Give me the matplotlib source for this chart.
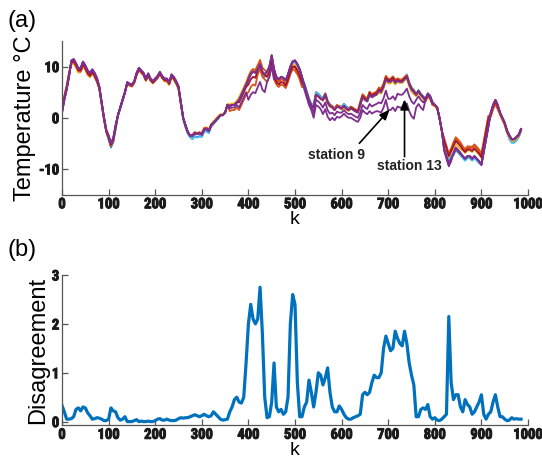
import numpy as np
import matplotlib
matplotlib.use("Agg")
import matplotlib.pyplot as plt
import matplotlib.patheffects as pe
from matplotlib import font_manager

# ---------------- data ----------------
k = np.arange(0, 990, 5)

# reference temperature trajectory (read every 5 samples)
base_temp = [1, 3.5, 5.5, 8, 11, 11.3, 10.5, 9.5, 9.5, 10.7,
             10, 9, 8.5, 9.2, 8.5, 7.5, 6, 3, 0, -2.5,
             -3.5, -5, -4, -1.5, 0.5, 2, 3.5, 5, 6.8, 6.5,
             6.3, 7, 8.5, 9.5, 9, 8.5, 7.5, 8.5, 7.5, 7,
             7.5, 8, 8.8, 8, 7.5, 7.5, 6.8, 8.3, 7.8, 7,
             6, 3, 0, -1.5, -2.8, -3.5, -3.5, -3, -3.2, -3,
             -3.3, -2.3, -2.2, -2.6, -1.5, -1, -0.5, 0, 0.5, 0.5,
             1, 2.5, 2.3, 2.5, 2.5, 3, 3.5, 4.5, 5.5, 6.5,
             7.5, 8.5, 9, 8.8, 9.5, 10.5, 9, 8.5, 9, 10,
             12.2, 9.5, 8, 7.5, 8, 7.8, 7.3, 8.5, 10, 11,
             11.2, 10.5, 9.5, 8, 6.5, 5, 3.5, 2.5, 2, 4.5,
             4.2, 3.7, 3.5, 4.5, 3, 2.3, 2, 1.5, 2.2, 2,
             1.8, 2.3, 1.8, 1.5, 1.8, 1.5, 1.2, 1, 2.5, 4,
             3.5, 3.2, 4.5, 4, 4.3, 4.5, 5.2, 5, 6, 7.5,
             7, 7, 7.5, 6.8, 7.2, 7, 7, 7.5, 8, 6.5,
             5.5, 5, 4.5, 5.2, 4.5, 4, 3.5, 4.5, 4, 2.8,
             2.5, 2, 0, -2.5, -5, -6.5, -8, -7, -6.5, -5.5,
             -6, -6.5, -7, -7.5, -7, -7, -7.5, -7, -7.5, -8,
             -8.5, -6, -3.5, -1, 1, 2.5, 3.5, 2.5, 1, 0,
             -1, -2.5, -3.5, -4.2, -4.2, -3.8, -3.3, -2.2]

# per-station deviation from the reference, read every 20 samples
dev_blue = [0.5, -0.2, -0.3, -0.3, -0.2, -0.8, -0.2, 0, 0, -0.2,
            -0.2, -0.2, -0.2, -0.3, -0.6, -0.4, -0.2, 0, 0, -0.3,
            0, -0.5, -0.5, -0.3, -0.3, -0.3, 0.2, 0.5, 0.3, 0.2,
            0.4, 0.3, 0, 0, 0.2, 0.3, 0.2, 0.4, 0.2, 0.2,
            0, -0.3, -0.8, -0.8, -0.8, -0.6, -0.3, -0.3, -0.6, -0.4]
dev_cyan = [0.3, -0.3, -0.4, -0.3, -0.2, -0.6, -0.2, 0, 0, -0.1,
            -0.1, -0.2, -0.2, -0.3, -0.7, -0.4, -0.2, 0, 0, -0.2,
            0.3, -0.3, -0.3, -0.2, -0.2, -0.2, 0.2, 0.4, 0.3, 0.2,
            0.3, 0.2, 0, 0.1, 0.3, 0.5, 0.3, 0.5, 0.1, 0.2,
            0, -0.2, -0.7, -0.9, -0.9, -0.5, -0.2, -0.3, -0.7, -0.5]
dev_yellow = [0.5, -0.7, -0.6, -0.5, -0.3, -0.3, 0, -0.2, -0.2, -0.3,
              -0.2, -0.4, -0.4, 0, 0, 0.2, 0.3, 0.2, 0.3, 0.5,
              0.5, -0.3, -0.3, -0.3, -0.5, -1.0, -0.3, 0, -0.2, 0,
              -0.2, 0, 0, 0, -0.3, -0.3, -0.2, -0.4, -0.3, -0.3,
              -0.3, 0.3, 0.4, 0.6, 0.8, 0.6, -0.8, -0.5, -0.3, -0.3]
dev_orange = [0.8, -0.3, -0.5, -0.5, -0.3, -0.5, 0, -0.2, -0.2, -0.2,
              -0.2, -0.3, -0.3, 0, 0.2, 0.2, 0, 0, 0, -0.2,
              0.5, 0.8, 0, -0.5, -1.0, -1.5, -0.3, 0, 0, 0.2,
              0, 0.3, 0.5, 0.5, 0.5, 0.5, 0.4, 0.3, 0, -0.2,
              0, 0.8, 1.4, 1.1, 1.5, 1.2, -0.8, -0.3, 0, 0]
dev_orange2 = [0.5, -0.4, -0.4, -0.4, -0.2, -0.4, 0, -0.1, -0.1, -0.2,
               -0.2, -0.2, -0.2, 0, 0.1, 0.3, 0.1, 0, -1.0, -2.0,
               -2.5, -1.0, -2.0, -1.5, -1.5, -2.0, -0.5, 0, 0.2, 0.3,
               0, 0.4, 0.6, 0.6, 0.7, 0.6, 0.5, 0.2, 0, -0.3,
               0, 1.0, 1.7, 1.4, 1.8, 1.4, -0.6, -0.2, 0, -0.2]
dev_darkred = [0.3, -0.2, -0.2, -0.2, -0.1, -0.3, 0, 0, 0, -0.1,
               -0.1, -0.1, -0.1, 0, 0, 0, 0, 0, 0, -0.5,
               -1.0, -0.2, -1.0, -1.0, -1.0, -1.2, -0.2, 0, 0, 0,
               0, 0.2, 0.2, 0.3, 0.3, 0.3, 0.2, 0.1, 0, 0,
               0, 0.5, 1.0, 0.8, 1.0, 0.8, -0.3, 0, 0, 0]
dev_purple = [0, 0.2, 0.3, 0.3, 0.2, 0, 0, 0.2, 0.3, 0.2,
              0.2, 0.2, 0.2, 0, 0, 0, 0, 0, 0, 0,
              0, 0, 0, 0, 0, 0, 0, 0, 0, 0,
              0, 0, 0, 0, 0, 0, 0, 0, 0, 0.3,
              0, -1.5, -0.3, -0.5, -0.5, -0.8, 0, 0, 0, 0]
dev_station13 = [0, 0.1, 0.2, 0.2, 0.1, 0, 0, 0.1, 0.2, 0.1,
                 0.1, 0.1, 0.1, 0, 0, 0, 0, 0, 0, 0,
                 0, 0, 0, 0, 0, 0, -0.5, -1.0, -1.5, -1.0,
                 -0.8, -1.0, -1.5, -1.8, -2.2, -3.3, -2.5, -2.3, -1.0, 0,
                 0, -1.2, -0.5, -0.5, -0.5, -0.6, 0, 0, 0, 0]
dev_station9 = [0, 0.1, 0.2, 0.2, 0.1, 0, 0, 0.1, 0.2, 0.1,
                0.1, 0.1, 0.1, 0, 0, 0, 0, 0, -0.5, -1.5,
                -4.0, -3.5, -2.0, 0, 0, 0, -1.0, -2.0, -2.8, -2.0,
                -1.5, -1.8, -2.5, -3.2, -4.0, -5.5, -5.0, -5.2, -2.5, 0,
                0, -1.0, -0.5, -0.5, -0.5, -0.6, 0, 0, 0, 0]

stations = [
    ("#0072BD", dev_blue),
    ("#4DBEEE", dev_cyan),
    ("#EDB120", dev_yellow),
    ("#D95319", dev_orange),
    ("#D95319", dev_orange2),
    ("#A2142F", dev_darkred),
    ("#7E2F8E", dev_station9),
    ("#7E2F8E", dev_station13),
    ("#7E2F8E", dev_purple),
]

# disagreement (read every 5 samples)
disagreement = [0.33, 0.2, 0.05, 0.05, 0.06, 0.1, 0.25, 0.28, 0.22, 0.3,
                0.28, 0.18, 0.12, 0.05, 0.06, 0.08, 0.07, 0.05, 0.02, 0.02,
                0.05, 0.28, 0.22, 0.2, 0.08, 0.03, 0.05, 0.1, 0.0, 0.0,
                0.0, 0.02, 0.04, 0.0, 0.01, 0.0, 0.0, 0.01, 0.0, 0.0,
                0.02, 0.05, 0.06, 0.03, 0.03, 0.05, 0.03, 0.02, 0.02, 0.03,
                0.06, 0.08, 0.07, 0.08, 0.08, 0.1, 0.12, 0.14, 0.12, 0.1,
                0.12, 0.15, 0.12, 0.1, 0.12, 0.2, 0.15, 0.1, 0.05, 0.03,
                0.04, 0.05, 0.2, 0.3, 0.45, 0.5, 0.4, 0.38, 0.5, 1.2,
                2.0, 2.4, 2.1, 2.0, 2.1, 2.75, 1.8, 0.5, 0.08, 0.1,
                0.4, 1.2, 0.3, 0.2, 0.25, 0.15, 0.2, 0.5, 2.0, 2.6,
                2.4, 0.8, 0.1, 0.1, 0.3, 0.4, 0.85, 0.6, 0.3, 0.6,
                1.0, 0.95, 0.75, 0.9, 1.1, 0.6, 0.3, 0.2, 0.2, 0.32,
                0.25, 0.15, 0.08, 0.05, 0.05, 0.08, 0.1, 0.12, 0.15, 0.55,
                0.6, 0.55, 0.6, 0.8, 0.95, 0.9, 0.9, 1.0, 1.5, 1.75,
                1.6, 1.45, 1.5, 1.85, 1.7, 1.6, 1.55, 1.85, 1.6, 1.2,
                0.95, 0.75, 0.1, 0.1, 0.25, 0.28, 0.25, 0.35, 0.1, 0.05,
                0.08, 0.03, 0.02, 0.05, 0.1, 0.15, 2.15, 0.8, 0.45, 0.55,
                0.55, 0.3, 0.2, 0.45, 0.35, 0.3, 0.15, 0.2, 0.3, 0.4,
                0.55, 0.15, 0.05, 0.15, 0.2, 0.4, 0.55, 0.3, 0.1, 0.1,
                0.05, 0.02, 0.03, 0.08, 0.05, 0.06, 0.05, 0.05]

xticks = [0, 100, 200, 300, 400, 500, 600, 700, 800, 900, 1000]
temp_ticks = [-10, 0, 10]
dis_ticks = [0, 1, 2, 3]

# ---------------- fonts ----------------
def has_font(name):
    try:
        font_manager.findfont(font_manager.FontProperties(family=name),
                              fallback_to_default=False)
        return True
    except Exception:
        return False

narrow = None
for cand in ['Liberation Sans Narrow', 'Arial Narrow', 'Roboto Condensed']:
    if has_font(cand):
        narrow = cand
        break

plt.rcParams['font.family'] = ['Liberation Sans', 'DejaVu Sans']
if narrow:
    tick_font = dict(family=[narrow, 'Liberation Sans', 'DejaVu Sans'], weight='bold', size=10.5)
else:
    tick_font = dict(family=['Liberation Sans', 'DejaVu Sans'], weight='bold', size=9.5)
bold_fx = [pe.withStroke(linewidth=0.7, foreground='#1a1a1a')]
spine_col = '#555555'

fig = plt.figure(figsize=(5.42, 4.67), dpi=100)
ax1 = fig.add_axes([0.1144, 0.5835, 0.8598, 0.3287])
ax2 = fig.add_axes([0.1144, 0.0899, 0.8598, 0.3212])

base = np.array(base_temp, dtype=float)
for col, dev in stations:
    d = np.repeat(np.array(dev, dtype=float), 4)[:len(base)]
    ax1.plot(k, base + d, color=col, lw=1.3, solid_joinstyle='round')

ax2.plot(k, disagreement, color='#0072BD', lw=2.3, solid_joinstyle='round')

for ax in (ax1, ax2):
    ax.set_xlim(0, 1000)
    ax.set_xticks(xticks)
    ax.spines['top'].set_visible(False)
    ax.spines['right'].set_visible(False)
    for s in ('left', 'bottom'):
        ax.spines[s].set_color(spine_col)
        ax.spines[s].set_linewidth(0.9)
    ax.tick_params(direction='in', length=4, width=0.9, color=spine_col, pad=2)
    ax.set_xlabel('k', fontsize=14, labelpad=0)

ax1.set_ylim(-15, 15)
ax1.set_yticks(temp_ticks)
ax2.set_ylim(-0.07, 3.0)
ax2.set_yticks(dis_ticks)

for ax in (ax1, ax2):
    ax.set_xticklabels([str(t) for t in xticks], fontdict=tick_font)
ax1.set_yticklabels([str(t) for t in temp_ticks], fontdict=tick_font)
ax2.set_yticklabels([str(t) for t in dis_ticks], fontdict=tick_font)
for ax in (ax1, ax2):
    for lab in ax.get_xticklabels() + ax.get_yticklabels():
        lab.set_color('#1a1a1a')
        lab.set_path_effects(bold_fx)

ax1.set_ylabel('Temperature °C', fontsize=17, labelpad=2)
ax2.set_ylabel('Disagreement', fontsize=17, labelpad=2)

fig.text(0.013, 0.955, '(a)', fontsize=17, va='center', ha='left')
fig.text(0.013, 0.465, '(b)', fontsize=17, va='center', ha='left')

arrow = dict(arrowstyle='-|>,head_length=0.6,head_width=0.25', color='black', lw=1.2,
             shrinkA=0, shrinkB=0)
ax1.annotate('', xy=(703, 1.6), xytext=(638, -5.0), arrowprops=arrow)
ax1.annotate('', xy=(735, 3.6), xytext=(735, -7.6), arrowprops=arrow)
ax1.text(589, -7.3, 'station 9', fontsize=10, fontweight='bold', color='#222222',
         ha='center', va='center')
ax1.text(745, -9.4, 'station 13', fontsize=10, fontweight='bold', color='#222222',
         ha='center', va='center')

fig.savefig('out.png', dpi=100)
